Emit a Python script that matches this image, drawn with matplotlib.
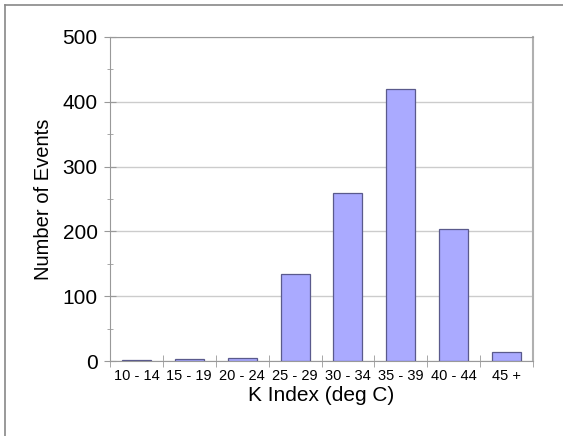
import numpy as np
import matplotlib
matplotlib.use('Agg')
import matplotlib.pyplot as plt
from matplotlib.lines import Line2D

plt.rcParams['font.family'] = ['Liberation Sans', 'DejaVu Sans']

# event counts per K index bin
k_bins = ['10 - 14', '15 - 19', '20 - 24', '25 - 29', '30 - 34', '35 - 39', '40 - 44', '45 +']
events = [1, 3, 5, 135, 260, 420, 204, 14]

fig = plt.figure(figsize=(5.63, 4.36), dpi=100)
ax = fig.add_axes([110/563, 1 - 361/436, (533-110)/563, (361-37)/436])

x = np.arange(len(k_bins))
ax.bar(x, events, width=0.55, color='#aaaaff', edgecolor='#5a5a8c', linewidth=0.9, zorder=3)

ax.set_xlim(-0.5, len(k_bins) - 0.5)
ax.set_ylim(0, 500)
ax.set_yticks(np.arange(0, 501, 100))
ax.set_yticks(np.arange(50, 500, 100), minor=True)
ax.set_xticks(x)
ax.set_xticklabels(k_bins, fontsize=10.5)
ax.set_xticks(np.arange(-0.5, len(k_bins)), minor=True)
ax.tick_params(axis='x', which='major', length=0, pad=6)
ax.tick_params(axis='x', which='minor', length=8, direction='inout', color='#999999')
ax.tick_params(axis='y', which='major', length=8, direction='inout', color='#999999', labelsize=15, pad=5)
ax.tick_params(axis='y', which='minor', length=5, direction='inout', color='#999999')

ax.grid(axis='y', which='major', color='#cccccc', linewidth=1, zorder=0)
for side in ['left', 'bottom', 'top']:
    ax.spines[side].set_color('#999999')
ax.spines['right'].set_color('#b0b0b0')
ax.spines['right'].set_linewidth(1.5)

ax.set_ylabel('Number of Events', fontsize=14.5, labelpad=7)
ax.set_xlabel('K Index (deg C)', fontsize=15, labelpad=2)

# frame lines along the top and left edge
fig.add_artist(Line2D([5/563, 1], [1 - 5/436, 1 - 5/436], color='#888888', linewidth=1.2))
fig.add_artist(Line2D([5/563, 5/563], [0, 1 - 5/436], color='#888888', linewidth=1.2))

fig.savefig('out.png', dpi=100)
